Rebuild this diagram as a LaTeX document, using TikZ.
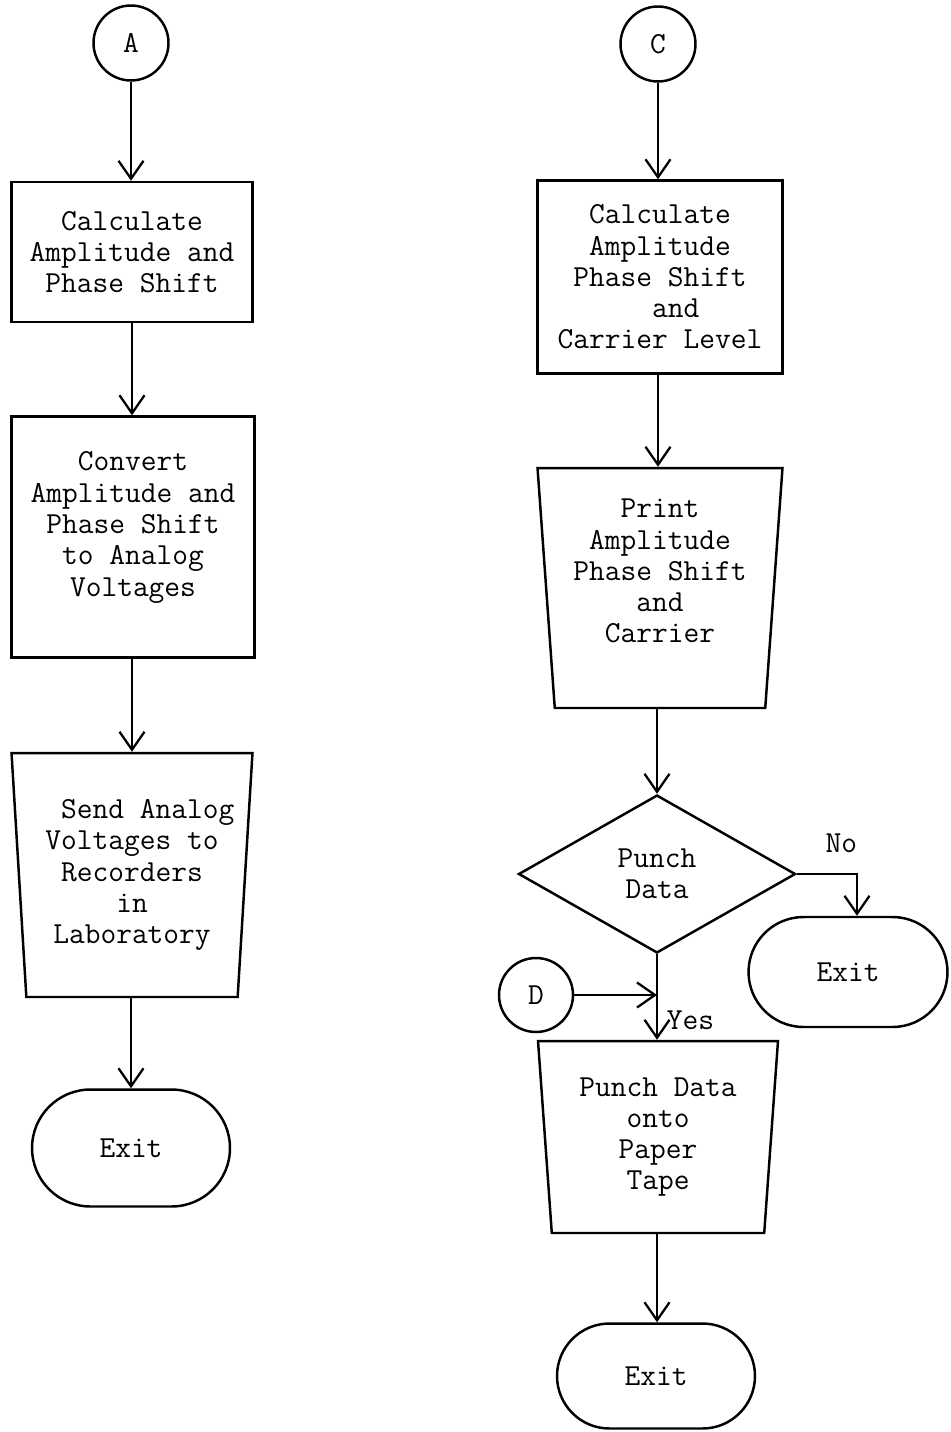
\documentclass[tikz,border=0pt]{standalone}
\usepackage{tikz}
\usetikzlibrary{arrows.meta,shapes.geometric,shapes.misc}

\begin{document}
\begin{tikzpicture}[x=0.02cm, y=-0.02cm, font=\ttfamily\fontsize{17.4}{17.8}\selectfont]
\tikzset{
    connector/.style={circle, draw=black, line width=1.4pt, minimum size=1.5cm, inner sep=0pt},
    process/.style={rectangle, draw=black, line width=1.4pt, align=center, inner sep=0pt},
    manual/.style={trapezium, trapezium angle=84.8, trapezium stretches body, shape border rotate=180, draw=black, line width=1.4pt, align=center, inner xsep=0pt},
    decision/.style={diamond, aspect=1.78, draw=black, line width=1.4pt, align=center, inner sep=0pt, minimum width=5.54cm, minimum height=3.16cm},
    terminal/.style={rounded rectangle, draw=black, line width=1.4pt, minimum width=3.96cm, inner sep=0pt},
    flow/.style={-{Straight Barb[length=0.36cm, width=0.5cm]}, line width=1.3pt},
    mylabel/.style={inner sep=2pt}
}
\useasboundingbox (0,0) rectangle (950,1432);
\fill[white] (0,0) rectangle (950,1432);

% left column
\node[connector] (conA) at (131,43) {A};
\node[process, minimum width=4.82cm, minimum height=2.8cm] (calcA) at (132,252) {Calculate\\Amplitude and\\Phase Shift};
\node[process, minimum width=4.86cm, minimum height=4.82cm] (convA) at (133,537) {Convert\\Amplitude and\\Phase Shift\\to Analog\\Voltages\\[-3pt]};
\node[manual, minimum width=4.82cm, minimum height=4.88cm] (sendA) at (132,875) {\ \ Send Analog\\Voltages to\\Recorders\\in\\Laboratory};
\node[terminal, minimum height=2.34cm] (exitA) at (131,1148) {Exit};

% right column
\node[connector] (conC) at (658,44) {C};
\node[process, minimum width=4.9cm, minimum height=3.86cm] (calcC) at (660,277) {Calculate\\Amplitude\\Phase Shift\\\ \ and\\Carrier Level};
\node[manual, minimum width=4.9cm, minimum height=4.8cm] (printC) at (660,588) {Print\\Amplitude\\Phase Shift\\and\\Carrier\\[1.5pt]};
\node[decision] (punchQ) at (657,874) {Punch\\Data};
\node[terminal, minimum width=3.98cm, minimum height=2.2cm] (exitR) at (848,972) {Exit};
\node[connector, minimum size=1.48cm] (conD) at (536,995) {D};
\node[manual, minimum width=4.8cm, minimum height=3.84cm, trapezium angle=84] (punchC) at (658,1137) {Punch Data\\onto\\Paper\\Tape};
\node[terminal, minimum height=2.1cm] (exitC) at (656,1376) {Exit};

\draw[flow] (conA.south) -- (conA.south |- calcA.north);
\draw[flow] (calcA.south) -- (calcA.south |- convA.north);
\draw[flow] (calcA.south |- convA.south) -- (calcA.south |- sendA.north);
\draw[flow] (exitA.north |- sendA.south) -- (exitA.north);

\draw[flow] (conC.south) -- (conC.south |- calcC.north);
\draw[flow] (conC.south |- calcC.south) -- (conC.south |- printC.north);
\draw[flow] (punchQ.north |- printC.south) -- (punchQ.north);
\draw[flow] (punchQ.east) -| node[mylabel, pos=0.37, above=0.34cm] {No} ([xshift=0.18cm]exitR.north);
\draw[flow] (punchQ.south) -- node[mylabel, pos=0.77, right=3pt] {Yes} (punchQ.south |- punchC.north);
\draw[flow] (conD.east) -- (punchQ.south |- conD.east);
\draw[flow] (punchQ.south |- punchC.south) -- (punchQ.south |- exitC.north);

\end{tikzpicture}
\end{document}
